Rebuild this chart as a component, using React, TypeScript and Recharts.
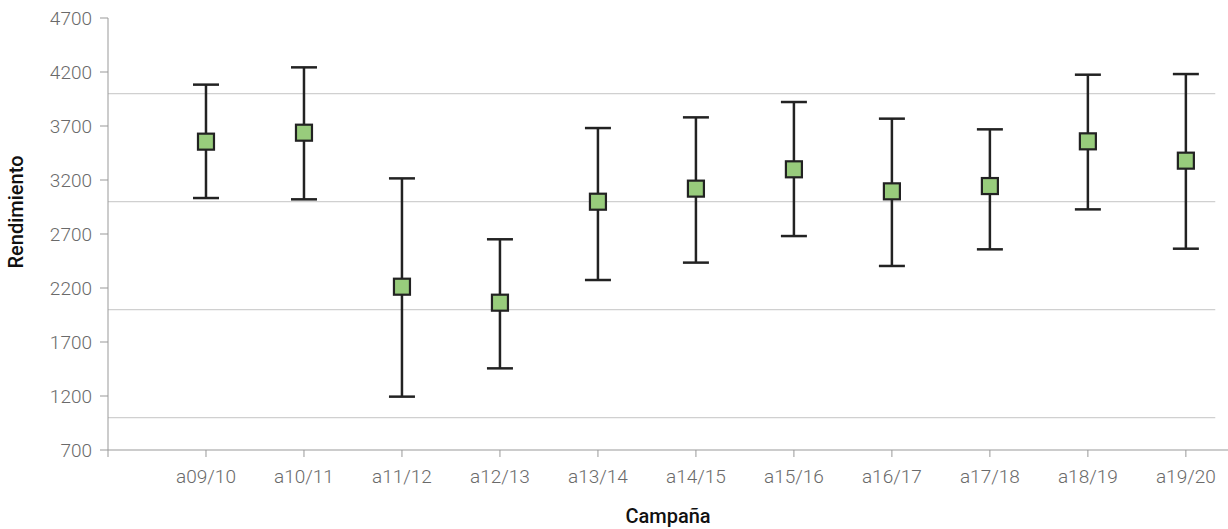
import { ScatterChart, Scatter, XAxis, YAxis, ErrorBar, ReferenceLine } from 'recharts';

const campaigns = ['a09/10', 'a10/11', 'a11/12', 'a12/13', 'a13/14', 'a14/15', 'a15/16', 'a16/17', 'a17/18', 'a18/19', 'a19/20'];
const means = [3555, 3638, 2212, 2064, 2999, 3120, 3299, 3095, 3144, 3558, 3379];
const lows = [3033, 3021, 1194, 1456, 2274, 2435, 2681, 2404, 2558, 2928, 2564];
const highs = [4083, 4243, 3215, 2651, 3681, 3780, 3922, 3768, 3669, 4175, 4181];
const yTicks = [700, 1200, 1700, 2200, 2700, 3200, 3700, 4200, 4700];
const gridValues = [1000, 2000, 3000, 4000];

const rows = campaigns.map((c, i) => ({
  x: i + 1,
  name: c,
  y: means[i],
  err: [means[i] - lows[i], highs[i] - means[i]],
}));

const xTicks = [0, ...campaigns.map((_, i) => i + 1)];
const X_MAX = 11.43;
const GRID_END = 11.3;

const FONT = 'Roboto, "Liberation Sans", sans-serif';

function SquareDot(props: any) {
  const { cx, cy } = props;
  if (cx == null || cy == null) return null;
  return (
    <rect x={cx - 8} y={cy - 8} width={16} height={16} fill="#98cc7c" stroke="#222" strokeWidth={2.2} />
  );
}

export default function App() {
  return (
    <div style={{ position: 'absolute', left: 0, top: 0, background: '#fff' }}>
      <ScatterChart width={1228} height={529} margin={{ top: 18, right: 0, bottom: 0, left: 0 }}>
        {gridValues.map((v) => (
          <ReferenceLine
            key={v}
            segment={[{ x: 0, y: v }, { x: GRID_END, y: v }]}
            stroke="#d0d0d0"
            strokeWidth={1.3}
          />
        ))}
        <XAxis
          type="number"
          dataKey="x"
          domain={[0, X_MAX]}
          ticks={xTicks}
          allowDataOverflow
          height={79}
          tickFormatter={(v: number) => campaigns[v - 1] ?? ''}
          tick={{ fill: '#6a6a6a', fontSize: 19, fontFamily: FONT, fontWeight: 300 }}
          tickSize={7}
          tickMargin={13}
          stroke="#999"
          tickLine={{ stroke: '#999' }}
          label={{ value: 'Campaña', position: 'insideBottom', offset: 6, fill: '#111', fontSize: 20, fontFamily: FONT, fontWeight: 500 }}
        />
        <YAxis
          type="number"
          dataKey="y"
          domain={[700, 4700]}
          ticks={yTicks}
          width={108}
          tick={{ fill: '#6a6a6a', fontSize: 19, fontFamily: FONT, fontWeight: 300 }}
          tickSize={8}
          tickMargin={8}
          stroke="#999"
          tickLine={{ stroke: '#999' }}
          label={{ value: 'Rendimiento', angle: -90, position: 'insideLeft', offset: 16, dy: -22, fill: '#111', fontSize: 20, fontFamily: FONT, fontWeight: 500, style: { textAnchor: 'middle' } }}
        />
        <Scatter data={rows} isAnimationActive={false} shape={<SquareDot />}>
          <ErrorBar dataKey="err" direction="y" width={13} stroke="#222" strokeWidth={2.5} />
        </Scatter>
      </ScatterChart>
    </div>
  );
}
